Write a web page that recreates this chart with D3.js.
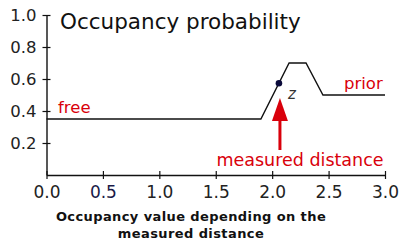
<!DOCTYPE html>
<html>
<head>
<meta charset="utf-8">
<script src="https://cdn.jsdelivr.net/npm/d3@7"></script>
<style>
	body { margin: 0; background: #fff; }
	#canvas { width: 400px; height: 241px; }
	text { font-family: 'DejaVu Sans', sans-serif; }
</style>
</head>
<body>
<div id="canvas"></div>
<script>
// occupancy profile along the beam
const distance = [0, 1.9, 2.15, 2.3, 2.45, 3.0];
const occupancy = [0.35, 0.35, 0.7, 0.7, 0.5, 0.5];
const measured = { x: 2.06, y: 0.573 };
const xTicks = [0, 0.5, 1, 1.5, 2, 2.5, 3];
const yTicks = [0.2, 0.4, 0.6, 0.8, 1.0];

const red = '#d9000b';
const width = 400;
const height = 241;

const svg = d3.select('#canvas').append('svg').attr('width', width).attr('height', height);

const x = d3.scaleLinear().domain([0, 3]).range([46.5, 385]);
const y = d3.scaleLinear().domain([0, 1]).range([175, 15]);

// axes: ticks cross the axis line
const xAxis = svg.append('g').attr('transform', `translate(0,${y(0)})`)
	.call(d3.axisBottom(x).tickValues(xTicks).tickFormat(d3.format('.1f')).tickSizeInner(4).tickSizeOuter(0).tickPadding(7));
xAxis.selectAll('.tick line').attr('y1', -4);
xAxis.selectAll('.tick text').attr('font-size', 17).attr('fill', d => (d === 0.5 ? '#1a1a48' : '#222'));

const yAxis = svg.append('g').attr('transform', `translate(${x(0)},0)`)
	.call(d3.axisLeft(y).tickValues(yTicks).tickFormat(d3.format('.1f')).tickSizeInner(4).tickSizeOuter(0).tickPadding(6));
yAxis.selectAll('.tick line').attr('x1', 4);
yAxis.selectAll('.tick text').attr('font-size', 16.5).attr('fill', '#222');
svg.selectAll('.domain').attr('stroke', '#111').attr('stroke-width', 1.4);
svg.selectAll('.tick line').attr('stroke', '#111').attr('stroke-width', 1.2);

// profile
const line = d3.line().x((d, i) => x(distance[i])).y(d => y(d));
svg.append('path').datum(occupancy).attr('d', line)
	.attr('fill', 'none').attr('stroke', '#111').attr('stroke-width', 1.4);

svg.append('circle').attr('cx', x(measured.x)).attr('cy', y(measured.y)).attr('r', 3.3).attr('fill', '#0a0a3a');

// arrow to measured point
const ax = x(measured.x) + 1;
svg.append('line').attr('x1', ax).attr('x2', ax).attr('y1', 118).attr('y2', 150).attr('stroke', red).attr('stroke-width', 3);
svg.append('path').attr('d', `M${ax},98 L${ax - 8},121 L${ax + 8},121 Z`).attr('fill', red);

svg.append('text').attr('x', x(measured.x) + 9).attr('y', y(measured.y) + 16)
	.attr('font-size', 15).attr('font-style', 'italic').attr('fill', '#333').text('z');

// labels
svg.append('text').attr('x', 60).attr('y', 29).attr('font-size', 21.5).attr('fill', '#111').text('Occupancy probability');
svg.append('text').attr('x', 58).attr('y', 113).attr('font-size', 16.5).attr('fill', red).text('free');
svg.append('text').attr('x', 344).attr('y', 89).attr('font-size', 16.5).attr('fill', red).text('prior');
svg.append('text').attr('x', 300).attr('y', 166).attr('text-anchor', 'middle').attr('font-size', 17.5).attr('fill', red).text('measured distance');

const caption = svg.append('text').attr('text-anchor', 'middle').attr('font-size', 13).attr('font-weight', 'bold')
	.attr('letter-spacing', 0.4).attr('fill', '#111');
caption.append('tspan').attr('x', 191).attr('y', 221).text('Occupancy value depending on the');
caption.append('tspan').attr('x', 191).attr('y', 238).text('measured distance');
</script>
</body>
</html>
